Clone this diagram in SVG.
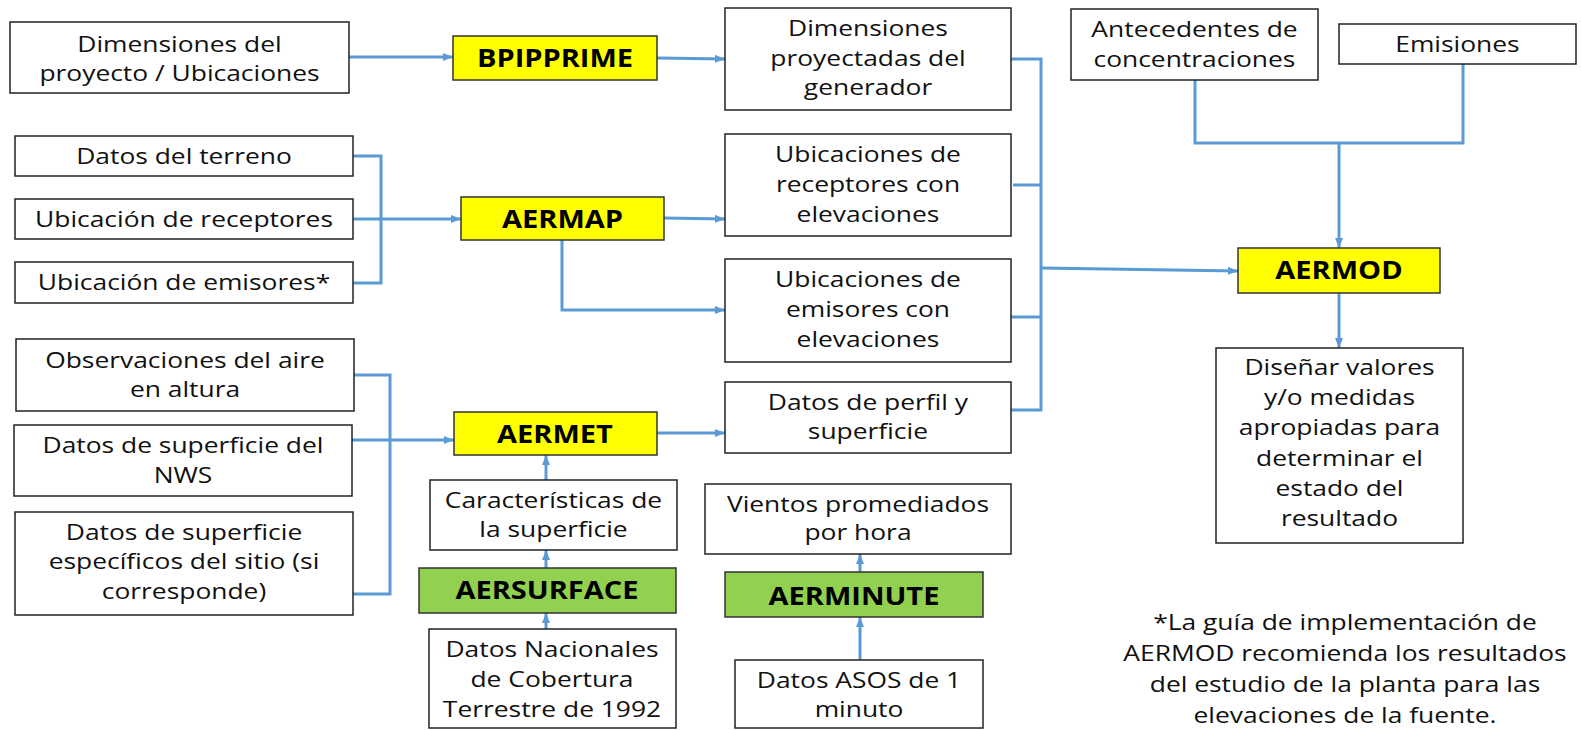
<svg xmlns="http://www.w3.org/2000/svg" width="1581" height="730" viewBox="0 0 1581 730">
<defs>
<style>
.box{fill:#fff;stroke:#222;stroke-width:1.5}
.yel{fill:#ffff00;stroke:#333;stroke-width:1.5}
.grn{fill:#92d050;stroke:#333;stroke-width:1.5}
.t{font-family:"Open Sans","Noto Sans",sans-serif;font-size:22px;fill:#111;text-anchor:middle;transform-box:fill-box;transform-origin:center;transform:scaleX(1.2)}
.b{font-family:"Open Sans","Noto Sans",sans-serif;font-weight:700;font-size:25px;fill:#000;text-anchor:middle;transform-box:fill-box;transform-origin:center;transform:scaleX(1.16)}
.ln{fill:none;stroke:#5b9bd5;stroke-width:3}
.ar{marker-end:url(#ah)}
</style>
<marker id="ah" markerUnits="userSpaceOnUse" markerWidth="10" markerHeight="8" refX="10" refY="4" orient="auto">
<path d="M0,0 L10,4 L0,8 z" fill="#5b9bd5"/>
</marker>
</defs>
<rect width="1581" height="730" fill="#fff"/>

<g id="connectors">
<path class="ln ar" d="M349,57 H453"/>
<path class="ln ar" d="M657,58 L725,59"/>
<path class="ln" d="M353,156 H381 V283 H353"/>
<path class="ln ar" d="M353,219 H461"/>
<path class="ln ar" d="M664,218 L725,219"/>
<path class="ln ar" d="M562,240 V310 H725"/>
<path class="ln" d="M1011,59 H1041 V410 H1011 M1013,185 H1041 M1011,317 H1041"/>
<path class="ln ar" d="M1041,268 L1238,271"/>
<path class="ln" d="M1195,80 V143 H1463 V64"/>
<path class="ln ar" d="M1339,143 V248"/>
<path class="ln ar" d="M1339,293 V348"/>
<path class="ln" d="M354,375 H390 V594 H352"/>
<path class="ln ar" d="M351,440 H454"/>
<path class="ln ar" d="M656,433 H725"/>
<path class="ln ar" d="M546,480 V455"/>
<path class="ln ar" d="M546,568 V550"/>
<path class="ln ar" d="M546,629 V613"/>
<path class="ln ar" d="M860,572 V554"/>
<path class="ln ar" d="M860,660 V617"/>
</g>

<g id="n_dimproy"><rect class="box" x="10" y="22" width="339" height="71"/>
<text class="t"><tspan x="179.5" y="52">Dimensiones del</tspan><tspan x="179.5" y="81">proyecto / Ubicaciones</tspan></text></g>

<g id="n_bpipprime"><rect class="yel" x="453" y="36" width="204" height="44"/>
<text class="b" x="555" y="67">BPIPPRIME</text></g>

<g id="n_dimgen"><rect class="box" x="725" y="8" width="286" height="102"/>
<text class="t"><tspan x="868" y="36">Dimensiones</tspan><tspan x="868" y="66">proyectadas del</tspan><tspan x="868" y="95">generador</tspan></text></g>

<g id="n_antec"><rect class="box" x="1071" y="9" width="247" height="71"/>
<text class="t"><tspan x="1194.5" y="37">Antecedentes de</tspan><tspan x="1194.5" y="67">concentraciones</tspan></text></g>

<g id="n_emis"><rect class="box" x="1339" y="24" width="237" height="40"/>
<text class="t" x="1457.5" y="52">Emisiones</text></g>

<g id="n_terreno"><rect class="box" x="15" y="136" width="338" height="40"/>
<text class="t" x="184" y="164">Datos del terreno</text></g>

<g id="n_ubrec"><rect class="box" x="15" y="199" width="338" height="40"/>
<text class="t" x="184" y="227">Ubicación de receptores</text></g>

<g id="n_ubem"><rect class="box" x="15" y="262" width="338" height="41"/>
<text class="t" x="184" y="290">Ubicación de emisores*</text></g>

<g id="n_aermap"><rect class="yel" x="461" y="197" width="203" height="43"/>
<text class="b" x="562.5" y="228">AERMAP</text></g>

<g id="n_ubrecel"><rect class="box" x="725" y="134" width="286" height="102"/>
<text class="t"><tspan x="868" y="162">Ubicaciones de</tspan><tspan x="868" y="192">receptores con</tspan><tspan x="868" y="222">elevaciones</tspan></text></g>

<g id="n_ubemel"><rect class="box" x="725" y="259" width="286" height="103"/>
<text class="t"><tspan x="868" y="287">Ubicaciones de</tspan><tspan x="868" y="317">emisores con</tspan><tspan x="868" y="347">elevaciones</tspan></text></g>

<g id="n_aermod"><rect class="yel" x="1238" y="248" width="202" height="45"/>
<text class="b" x="1339" y="279">AERMOD</text></g>

<g id="n_disenar"><rect class="box" x="1216" y="348" width="247" height="195"/>
<text class="t"><tspan x="1339.5" y="375">Diseñar valores</tspan><tspan x="1339.5" y="405">y/o medidas</tspan><tspan x="1339.5" y="435">apropiadas para</tspan><tspan x="1339.5" y="466">determinar el</tspan><tspan x="1339.5" y="496">estado del</tspan><tspan x="1339.5" y="526">resultado</tspan></text></g>

<g id="n_obs"><rect class="box" x="16" y="339" width="338" height="72"/>
<text class="t"><tspan x="185" y="368">Observaciones del aire</tspan><tspan x="185" y="397">en altura</tspan></text></g>

<g id="n_nws"><rect class="box" x="14" y="425" width="338" height="71"/>
<text class="t"><tspan x="183" y="453">Datos de superficie del</tspan><tspan x="183" y="483">NWS</tspan></text></g>

<g id="n_sitio"><rect class="box" x="15" y="512" width="338" height="103"/>
<text class="t"><tspan x="184" y="540">Datos de superficie</tspan><tspan x="184" y="569">específicos del sitio (si</tspan><tspan x="184" y="599">corresponde)</tspan></text></g>

<g id="n_aermet"><rect class="yel" x="454" y="412" width="203" height="43"/>
<text class="b" x="555" y="443">AERMET</text></g>

<g id="n_caract"><rect class="box" x="430" y="480" width="247" height="70"/>
<text class="t"><tspan x="553.5" y="508">Características de</tspan><tspan x="553.5" y="537">la superficie</tspan></text></g>

<g id="n_aersurface"><rect class="grn" x="419" y="568" width="257" height="45"/>
<text class="b" x="547" y="599">AERSURFACE</text></g>

<g id="n_nlcd"><rect class="box" x="429" y="629" width="247" height="99"/>
<text class="t"><tspan x="552" y="657">Datos Nacionales</tspan><tspan x="552" y="687">de Cobertura</tspan><tspan x="552" y="717">Terrestre de 1992</tspan></text></g>

<g id="n_perfil"><rect class="box" x="725" y="382" width="286" height="71"/>
<text class="t"><tspan x="868" y="410">Datos de perfil y</tspan><tspan x="868" y="439">superficie</tspan></text></g>

<g id="n_vientos"><rect class="box" x="705" y="484" width="306" height="70"/>
<text class="t"><tspan x="858" y="512">Vientos promediados</tspan><tspan x="858" y="540">por hora</tspan></text></g>

<g id="n_aerminute"><rect class="grn" x="725" y="572" width="258" height="45"/>
<text class="b" x="854" y="605">AERMINUTE</text></g>

<g id="n_asos"><rect class="box" x="735" y="660" width="248" height="68"/>
<text class="t"><tspan x="859" y="688">Datos ASOS de 1</tspan><tspan x="859" y="717">minuto</tspan></text></g>

<g id="footnote">
<text class="t"><tspan x="1345" y="630">*La guía de implementación de</tspan><tspan x="1345" y="661">AERMOD recomienda los resultados</tspan><tspan x="1345" y="692">del estudio de la planta para las</tspan><tspan x="1345" y="723">elevaciones de la fuente.</tspan></text>
</g>
</svg>
